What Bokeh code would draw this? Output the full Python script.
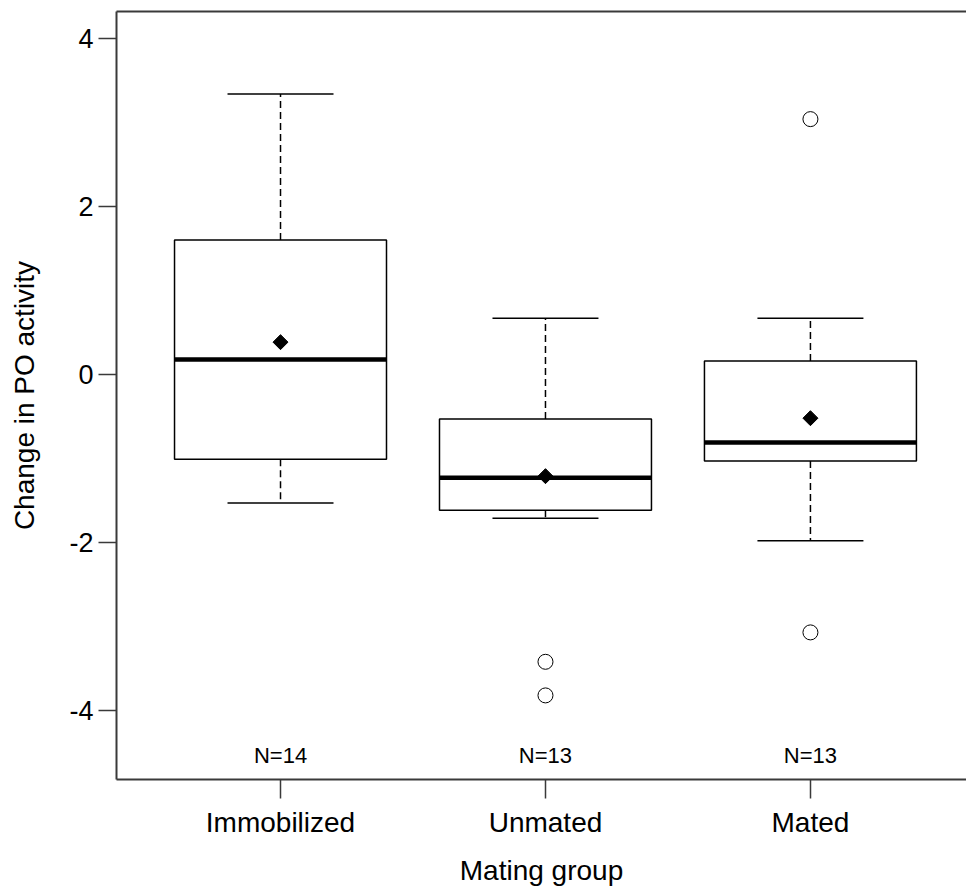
import math
from bokeh.plotting import figure
from bokeh.models import FixedTicker, LinearAxis, Range1d
from bokeh.core.properties import value
from bokeh.embed import file_html
from bokeh.resources import INLINE

groups = ["Immobilized", "Unmated", "Mated"]
n_obs = [14, 13, 13]
q1 = [-1.01, -1.615, -1.03]
medians = [0.18, -1.23, -0.81]
q3 = [1.60, -0.53, 0.16]
whisk_low = [-1.53, -1.71, -1.98]
whisk_high = [3.34, 0.67, 0.67]
means = [0.385, -1.21, -0.52]
outlier_group = [2, 2, 3, 3]
outlier_vals = [-3.42, -3.82, 3.04, -3.07]
y_ticks = [-4, -2, 0, 2, 4]
y_tick_labels = ["-4", "-2", "0", "2", "4"]

FONT = "Liberation Sans"
AX = "#3a3a3a"

xs = list(range(1, len(groups) + 1))
bw = 0.8
cap = 0.2

p = figure(width=966, height=890, output_backend="svg", toolbar_location=None,
           x_range=Range1d(0.381, 3.589), y_range=Range1d(-4.821, 4.321),
           min_border_left=116, min_border_right=0, min_border_top=11, min_border_bottom=111,
           x_axis_location=None, y_axis_location=None)
p.outline_line_color = None
p.grid.visible = False
p.background_fill_color = "white"
p.border_fill_color = "white"

# axes
yax = LinearAxis(ticker=FixedTicker(ticks=y_ticks), axis_label="Change in PO activity")
yax.major_label_overrides = dict(zip(y_ticks, y_tick_labels))
xax = LinearAxis(ticker=FixedTicker(ticks=xs), axis_label="Mating group")
xax.major_label_overrides = {i + 1: g for i, g in enumerate(groups)}
top = LinearAxis(ticker=FixedTicker(ticks=[]))
for ax in (yax, xax, top):
    ax.axis_line_color = AX
    ax.axis_line_width = 2
    ax.major_tick_line_color = AX
    ax.major_tick_line_width = 1.5
    ax.major_tick_in = 0
    ax.minor_tick_line_color = None
    ax.major_label_text_font = FONT
    ax.major_label_text_color = "black"
    ax.axis_label_text_font = FONT
    ax.axis_label_text_font_style = "normal"
    ax.axis_label_text_color = "black"
yax.major_tick_out = 18
yax.major_label_standoff = 5
yax.major_label_text_font_size = "27px"
yax.major_label_orientation = "horizontal"
yax.axis_label_text_font_size = "28px"
yax.axis_label_standoff = 26
xax.major_tick_out = 19
xax.major_label_standoff = 8
xax.major_label_text_font_size = "28px"
xax.axis_label_text_font_size = "28px"
xax.axis_label_standoff = 14
top.major_tick_out = 0
top.major_label_text_font_size = "0px"
top.major_label_standoff = 0
top.axis_label = None
p.add_layout(yax, "left")
p.add_layout(xax, "below")
p.add_layout(top, "above")

# whiskers (dashed)
p.segment(x0=xs, y0=q3, x1=xs, y1=whisk_high, line_color="black", line_width=1.5, line_dash="7 4")
p.segment(x0=xs, y0=q1, x1=xs, y1=whisk_low, line_color="black", line_width=1.5, line_dash="7 4")
# caps
p.segment(x0=[x - cap for x in xs], y0=whisk_high, x1=[x + cap for x in xs], y1=whisk_high,
          line_color="black", line_width=1.5)
p.segment(x0=[x - cap for x in xs], y0=whisk_low, x1=[x + cap for x in xs], y1=whisk_low,
          line_color="black", line_width=1.5)
# boxes
p.vbar(x=xs, width=bw, bottom=q1, top=q3, fill_color="white", line_color="black", line_width=1.5)
# medians
p.segment(x0=[x - bw / 2 for x in xs], y0=medians, x1=[x + bw / 2 for x in xs], y1=medians,
          line_color="black", line_width=4.5)
# means
p.scatter(x=xs, y=means, marker="square", size=10.6, angle=math.pi / 4,
          fill_color="black", line_color="black")
# outliers
p.scatter(x=outlier_group, y=outlier_vals, marker="circle", size=15,
          fill_color="white", line_color="black", line_width=1)
# N labels
p.text(x=xs, y=[-4.54] * len(xs), text=[f"N={n}" for n in n_obs],
       text_font=value(FONT), text_font_size="22px", text_align="center",
       text_baseline="middle", text_color="black")

open("out.html", "w").write(file_html(p, INLINE))
